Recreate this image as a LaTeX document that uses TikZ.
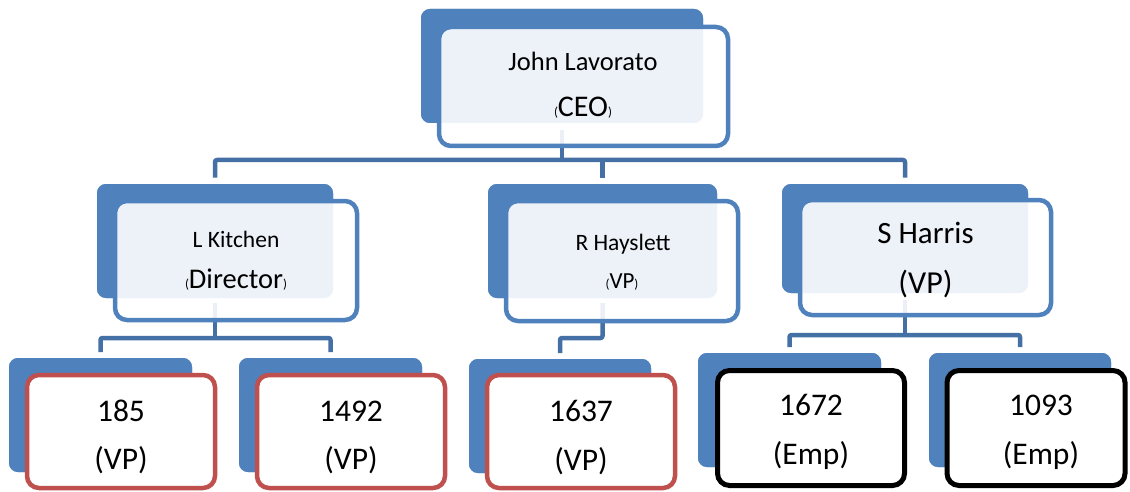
\documentclass[tikz,border=0pt]{standalone}
\usepackage{fontspec}
\setmainfont{Carlito}
\usetikzlibrary{calc}
\definecolor{accent}{HTML}{4F81BD}
\definecolor{connblue}{HTML}{4470A6}
\definecolor{redline}{HTML}{C0504D}
\tikzset{
  backbox/.style={fill=accent, draw=none, rounded corners=9pt, inner sep=0pt, outer sep=0pt},
  frontblue/.style={fill=white, fill opacity=0.9, draw=accent, draw opacity=1, line width=4.5pt, rounded corners=12pt, inner sep=0pt},
  frontred/.style={fill=white, draw=redline, line width=4.5pt, rounded corners=12pt, inner sep=0pt},
  frontblack/.style={fill=white, draw=black, line width=5pt, rounded corners=12pt, inner sep=0pt},
  conn/.style={draw=connblue, line width=4.5pt, rounded corners=2pt, line join=round},
  lbl/.style={anchor=base, inner sep=0pt, text=black}
}
\newcommand{\myfs}[1]{\fontsize{#1}{#1}\selectfont}
\newcommand{\smallp}[1]{{\myfs{13}#1}}
\begin{document}
\begin{tikzpicture}[x=1pt,y=-1pt]
\useasboundingbox (0,0) rectangle (1130,492);
\fill[white] (0,0) rectangle (1130,492);
% bus coordinates
\coordinate (bus1) at (0,160);
\coordinate (bus2) at (0,338);
\coordinate (bus3) at (0,338);
\coordinate (bus4) at (0,335);
% back boxes (as nodes, filled later)
\path
 node[backbox, minimum width=282pt, minimum height=114pt] (ceob) at (562,66) {}
 node[backbox, minimum width=236pt, minimum height=114pt] (lkb) at (215,241) {}
 node[backbox, minimum width=229pt, minimum height=114pt] (rhb) at (602.5,241) {}
 node[backbox, minimum width=246pt, minimum height=109pt] (shb) at (905,238.5) {}
 node[backbox, minimum width=183pt, minimum height=114pt] (e185b) at (100.5,415) {}
 node[backbox, minimum width=183pt, minimum height=114pt] (e1492b) at (330.5,415) {}
 node[backbox, minimum width=182pt, minimum height=114pt] (e1637b) at (560,416) {}
 node[backbox, minimum width=183pt, minimum height=114pt] (e1672b) at (789.5,410) {}
 node[backbox, minimum width=182pt, minimum height=114pt] (e1093b) at (1020,410) {};
% connectors
\draw[conn, shorten <=7pt] (ceob.south) -- (ceob.south |- bus1);
\draw[conn, shorten <=6.5pt, shorten >=6.5pt] (lkb.north) |- (shb.north |- bus1) -- (shb.north);
\draw[conn, shorten >=6.5pt] (rhb.north |- bus1) -- (rhb.north);
\draw[conn, shorten <=5pt] (lkb.south) -- (lkb.south |- bus2);
\draw[conn, shorten <=6pt, shorten >=6pt] (e185b.north) |- (e1492b.north |- bus2) -- (e1492b.north);
\draw[conn, shorten <=5pt, shorten >=6pt] (rhb.south) |- (e1637b.north |- bus3) -- (e1637b.north);
\draw[conn, shorten <=7pt] (shb.south) -- (shb.south |- bus4);
\draw[conn, shorten <=6pt, shorten >=6pt] (e1672b.north) |- (e1093b.north |- bus4) -- (e1093b.north);
% back boxes drawn
\foreach \n in {ceob,lkb,rhb,shb,e185b,e1492b,e1637b,e1672b,e1093b}
  \fill[accent, rounded corners=9pt] (\n.north west) rectangle (\n.south east);
% front boxes
\node[frontblue, minimum width=289pt, minimum height=119pt] (ceof) at (583.5,86.5) {};
\node[frontblue, minimum width=242pt, minimum height=119pt] (lkf) at (236,260.5) {};
\node[frontblue, minimum width=232pt, minimum height=120pt] (rhf) at (622,261) {};
\node[frontblue, minimum width=251pt, minimum height=115pt] (shf) at (925.5,257.5) {};
\node[frontred, minimum width=188pt, minimum height=113pt] (e185f) at (121,431.5) {};
\node[frontred, minimum width=188pt, minimum height=113pt] (e1492f) at (351,431.5) {};
\node[frontred, minimum width=188pt, minimum height=113pt] (e1637f) at (581,431.5) {};
\node[frontblack, minimum width=187pt, minimum height=115pt] (e1672f) at (811,428) {};
\node[frontblack, minimum width=178pt, minimum height=115pt] (e1093f) at (1036,428) {};
% labels
\node[lbl, font=\myfs{26.5}] (ceot1) at (583,71) {John Lavorato};
\node[lbl, font=\myfs{30}] (ceot2) at (583,117) {\smallp{(}CEO\smallp{)}};
\node[lbl, font=\myfs{23.5}] (lkt1) at (236,247) {L Kitchen};
\node[lbl, font=\myfs{28.5}] (lkt2) at (236,288) {\smallp{(}Director\smallp{)}};
\node[lbl, font=\myfs{23.5}] (rht1) at (623,250) {R Hayslett};
\node[lbl, font=\myfs{23}] (rht2) at (622,288) {\smallp{(}VP\smallp{)}};
\node[lbl, font=\myfs{31}] (sht1) at (925.5,243) {S Harris};
\node[lbl, font=\myfs{32}] (sht2) at (925.5,293) {(VP)};
\node[lbl, font=\myfs{31.5}] (t185a) at (121,421) {185};
\node[lbl, font=\myfs{31.5}] (t185b) at (121,469) {(VP)};
\node[lbl, font=\myfs{31.5}] (t1492a) at (351,421) {1492};
\node[lbl, font=\myfs{31.5}] (t1492b) at (351,469) {(VP)};
\node[lbl, font=\myfs{31.5}] (t1637a) at (581,421) {1637};
\node[lbl, font=\myfs{31.5}] (t1637b) at (581,470) {(VP)};
\node[lbl, font=\myfs{31.5}] (t1672a) at (811,415) {1672};
\node[lbl, font=\myfs{31.5}] (t1672b) at (811,464) {(Emp)};
\node[lbl, font=\myfs{31.5}] (t1093a) at (1041,415) {1093};
\node[lbl, font=\myfs{31.5}] (t1093b) at (1041,464) {(Emp)};
\end{tikzpicture}
\end{document}
